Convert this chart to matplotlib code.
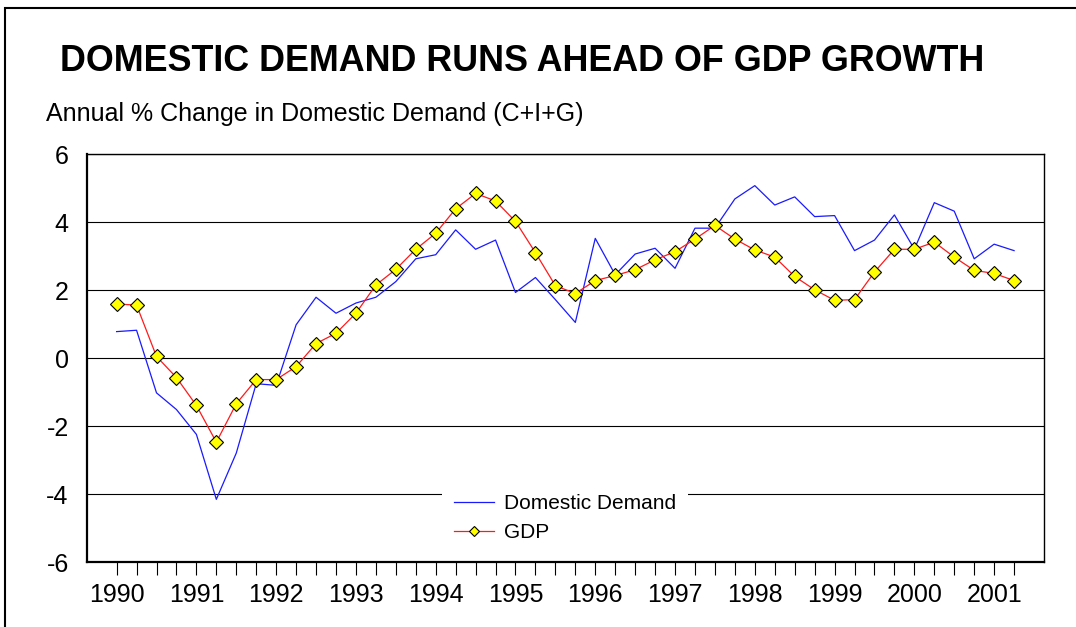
import matplotlib
matplotlib.use('Agg')
import matplotlib.pyplot as plt
from matplotlib.patches import Rectangle

plt.rcParams['font.family'] = ['Liberation Sans', 'DejaVu Sans']
plt.rcParams['axes.unicode_minus'] = False

# quarterly, 1990 Q1 .. 2001 Q2
years = ['1990', '1991', '1992', '1993', '1994', '1995', '1996',
         '1997', '1998', '1999', '2000', '2001']
domestic = [0.78, 0.82, -1.02, -1.51, -2.24, -4.15, -2.79, -0.75,
            -0.80, 0.98, 1.79, 1.32, 1.62, 1.79, 2.25, 2.92,
            3.04, 3.77, 3.20, 3.47, 1.93, 2.37, 1.72, 1.05,
            3.52, 2.45, 3.06, 3.23, 2.64, 3.82, 3.82, 4.68,
            5.07, 4.50, 4.74, 4.16, 4.19, 3.16, 3.47, 4.21,
            3.20, 4.57, 4.32, 2.92, 3.35, 3.16]
gdp = [1.59, 1.56, 0.05, -0.57, -1.39, -2.47, -1.34, -0.63,
       -0.63, -0.25, 0.43, 0.73, 1.32, 2.15, 2.61, 3.20,
       3.67, 4.39, 4.84, 4.62, 4.02, 3.10, 2.13, 1.90,
       2.28, 2.43, 2.60, 2.89, 3.13, 3.50, 3.90, 3.50,
       3.18, 2.97, 2.40, 2.01, 1.70, 1.72, 2.53, 3.20,
       3.20, 3.41, 2.97, 2.58, 2.49, 2.28]

x = list(range(len(gdp)))

fig = plt.figure(figsize=(10.76, 6.27), dpi=100)
ax = fig.add_axes([86.7 / 1076, 1 - 562.3 / 627, (1044 - 86.7) / 1076, (562.3 - 154) / 627])

# outer chart frame (only left/top edges visible in the crop)
fig.patches.append(Rectangle((5 / 1076, -0.1), 1.2, 1 - 8 / 627 + 0.1,
                             transform=fig.transFigure, fill=False,
                             edgecolor='black', linewidth=1.5))

for v in range(-4, 7, 2):
    ax.axhline(v, color='black', linewidth=0.8, zorder=1)

ax.plot(x, domestic, color='#1a1aff', linewidth=0.9, label='Domestic Demand', zorder=2)
ax.plot(x, gdp, color='#ff1a1a', linewidth=0.9, marker='D', markersize=7.5,
        markerfacecolor='#ffff00', markeredgecolor='black', markeredgewidth=0.8,
        label='GDP', zorder=3)

ax.set_xlim(-1.5, 46.5)
ax.set_ylim(-6, 6)
ax.set_yticks(range(-6, 7, 2))
ax.set_xticks(x)
ax.set_xticklabels([years[i // 4] if i % 4 == 0 else '' for i in x])
ax.tick_params(axis='x', length=9.6, width=0.8, pad=5, labelsize=18, direction='out')
ax.tick_params(axis='y', length=0, pad=13, labelsize=18)
for s in ax.spines.values():
    s.set_linewidth(1.0)
ax.spines['bottom'].set_linewidth(1.6)
ax.spines['left'].set_linewidth(1.6)

leg = ax.legend(loc='center', bbox_to_anchor=(565 / 1076, 1 - 518 / 627),
                bbox_transform=fig.transFigure, fontsize=15, frameon=True,
                fancybox=False, framealpha=1, edgecolor='none', facecolor='white',
                handlelength=1.9, handletextpad=0.5, labelspacing=0.5,
                borderpad=0.55, markerscale=0.7)

fig.text(522.5 / 1076, 1 - 61.7 / 627, 'DOMESTIC DEMAND RUNS AHEAD OF GDP GROWTH',
         ha='center', va='center', fontsize=25.8, fontweight='bold')
fig.text(46 / 1076, 1 - 114 / 627, 'Annual % Change in Domestic Demand (C+I+G)',
         ha='left', va='center', fontsize=18)

fig.savefig('out.png', dpi=100)
